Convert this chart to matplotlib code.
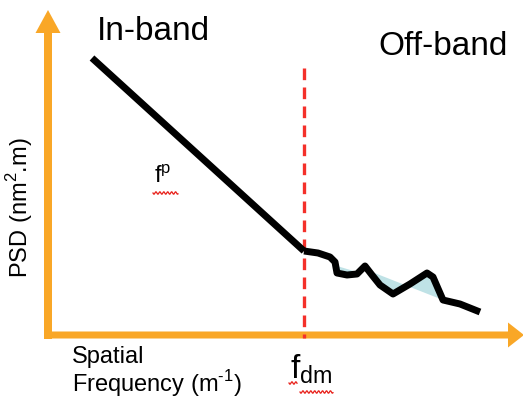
import matplotlib
matplotlib.use("Agg")
import matplotlib.pyplot as plt
import numpy as np
from matplotlib.patches import FancyArrow, Polygon

plt.rcParams['font.family'] = ['Liberation Sans', 'DejaVu Sans']
plt.rcParams['mathtext.fontset'] = 'custom'
plt.rcParams['mathtext.rm'] = 'Liberation Sans'

# PSD curve (pixel-space schematic)
inband_x = [92, 304]
inband_y = [58, 251]
offband_x = [304, 318, 330, 335, 337, 347, 357, 365, 372, 380, 393, 410, 427, 433, 443, 460, 480]
offband_y = [251, 253, 257, 262, 273, 275, 274, 266, 275, 285, 294, 284, 273, 277, 300, 304, 312]
fill1_x = [337, 357, 340]
fill1_y = [266, 272, 273]
fill2_x = [372, 393, 427, 433, 443]
fill2_y = [272, 294, 273, 277, 300]
cutoff_x = 304

fig = plt.figure(figsize=(5.23, 4.0), dpi=100)
ax = fig.add_axes([0, 0, 1, 1])
ax.set_xlim(0, 523)
ax.set_ylim(400, 0)
ax.axis('off')

orange = '#F9A727'
# axes arrows
ax.add_patch(FancyArrow(48, 339, 0, -306, width=8, head_width=25, head_length=23,
                        length_includes_head=False, color=orange, lw=0))
ax.add_patch(FancyArrow(44, 335, 464, 0, width=7, head_width=25, head_length=16,
                        length_includes_head=False, color=orange, lw=0))

# fills
ax.add_patch(Polygon(list(zip(fill1_x, fill1_y)), closed=True, color='#BFE2E6', lw=0))
ax.add_patch(Polygon(list(zip(fill2_x, fill2_y)), closed=True, color='#BFE2E6', lw=0))

# cutoff
ax.plot([cutoff_x, cutoff_x], [68, 338], color='#F4302A', lw=2.4, dashes=(3.5, 2.2))

# curve
ax.plot(inband_x, inband_y, color='black', lw=5, solid_capstyle='butt')
ax.plot(offband_x, offband_y, color='black', lw=5, solid_joinstyle='round', solid_capstyle='butt')

# texts
ax.text(97, 40, 'In-band', fontsize=24, ha='left', va='baseline')
ax.text(378, 55, 'Off-band', fontsize=24, ha='left', va='baseline')
ax.text(20, 208, 'PSD (nm$^{\\mathrm{2}}$.m)', fontsize=17, rotation=90, ha='center', va='center')
ax.text(72, 363, 'Spatial', fontsize=17, ha='left', va='baseline')
ax.text(72, 392, 'Frequency (m$^{\\text{-1}}$)', fontsize=17, ha='left', va='baseline')
ax.text(154, 183, 'f$^{\\mathrm{p}}$', fontsize=17, ha='left', va='baseline')
ax.text(290, 378, 'f$_{\\mathrm{dm}}$', fontsize=24, ha='left', va='baseline')

# red squiggles
def squiggle(x0, x1, y):
    xs = np.linspace(x0, x1, int((x1 - x0) * 3))
    ax.plot(xs, y + 1.2 * np.sin((xs - x0) * 1.6), color='#E8201A', lw=0.9)

squiggle(153, 178, 193)
squiggle(289, 297, 383)
squiggle(300, 333, 392)

fig.savefig('out.png', dpi=100)
